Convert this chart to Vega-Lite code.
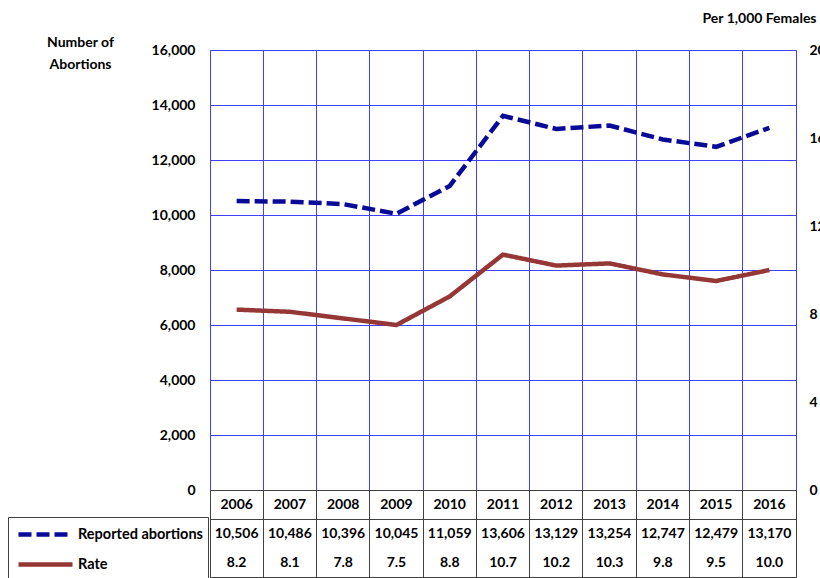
{
  "$schema": "https://vega.github.io/schema/vega-lite/v6.json",
  "padding": {"left": 7, "top": 10, "right": 0, "bottom": 0},
  "background": "white",
  "config": {
    "font": "Lato",
    "axis": {"labelFont": "Lato", "labelFontSize": 14, "labelFontWeight": "bold", "labelColor": "#000000", "titleFont": "Lato", "titleFontSize": 14, "titleFontWeight": "bold", "titleColor": "#000000"},
    "text": {"font": "Lato", "fontSize": 14, "fontWeight": "bold", "color": "#000000", "baseline": "middle"}
  },
  "datasets": {
    "series": [
      {"year": "2006", "series": "Reported abortions", "value": 10506},
      {"year": "2007", "series": "Reported abortions", "value": 10486},
      {"year": "2008", "series": "Reported abortions", "value": 10396},
      {"year": "2009", "series": "Reported abortions", "value": 10045},
      {"year": "2010", "series": "Reported abortions", "value": 11059},
      {"year": "2011", "series": "Reported abortions", "value": 13606},
      {"year": "2012", "series": "Reported abortions", "value": 13129},
      {"year": "2013", "series": "Reported abortions", "value": 13254},
      {"year": "2014", "series": "Reported abortions", "value": 12747},
      {"year": "2015", "series": "Reported abortions", "value": 12479},
      {"year": "2016", "series": "Reported abortions", "value": 13170},
      {"year": "2006", "series": "Rate", "value": 8.2},
      {"year": "2007", "series": "Rate", "value": 8.1},
      {"year": "2008", "series": "Rate", "value": 7.8},
      {"year": "2009", "series": "Rate", "value": 7.5},
      {"year": "2010", "series": "Rate", "value": 8.8},
      {"year": "2011", "series": "Rate", "value": 10.7},
      {"year": "2012", "series": "Rate", "value": 10.2},
      {"year": "2013", "series": "Rate", "value": 10.3},
      {"year": "2014", "series": "Rate", "value": 9.8},
      {"year": "2015", "series": "Rate", "value": 9.5},
      {"year": "2016", "series": "Rate", "value": 10.0}
    ]
  },
  "spacing": 0,
  "bounds": "flush",
  "vconcat": [
    {
      "width": 586,
      "height": 440,
      "view": {"stroke": "#4040ff", "strokeWidth": 1},
      "data": {"name": "series"},
      "layer": [
        {
          "transform": [{"filter": "datum.series === 'Reported abortions'"}],
          "mark": {"type": "line", "strokeWidth": 4.5, "strokeCap": "butt"},
          "encoding": {
            "x": {"field": "year", "type": "ordinal", "scale": {"type": "band", "paddingInner": 0, "paddingOuter": 0},
                  "axis": {"labels": false, "ticks": false, "domain": false, "grid": true, "bandPosition": 0, "gridColor": "#4040ff", "gridOpacity": 1, "title": null}},
            "y": {"field": "value", "type": "quantitative", "scale": {"domain": [0, 16000], "nice": false},
                  "axis": {"values": [0, 2000, 4000, 6000, 8000, 10000, 12000, 14000, 16000], "format": ",.0f", "grid": true, "gridColor": "#4040ff", "gridOpacity": 1, "domain": false, "ticks": false, "tickSize": 0, "labelPadding": 15,
                           "title": ["Number of", "Abortions"], "titleAngle": 0, "titleAlign": "center", "titleBaseline": "alphabetic", "titleX": -130, "titleY": -4, "titleLineHeight": 22}},
            "color": {"field": "series", "type": "nominal", "scale": {"domain": ["Reported abortions", "Rate"], "range": ["#0a0a99", "#953735"]},
                      "legend": {"title": null, "orient": "none", "legendX": -202, "legendY": 467, "symbolType": "M-1,0H4.4", "symbolSize": 400, "symbolStrokeWidth": 4.5, "symbolOffset": 3, "labelFont": "Lato", "labelFontSize": 14.5, "labelFontWeight": "bold", "labelColor": "#000000", "labelOffset": 37, "padding": 5, "rowPadding": 8, "strokeColor": "#404040"}},
            "strokeDash": {"field": "series", "type": "nominal", "scale": {"domain": ["Reported abortions", "Rate"], "range": [[13, 5], [1, 0]]},
                      "legend": {"title": null, "orient": "none", "legendX": -202, "legendY": 467, "symbolType": "M-1,0H4.4", "symbolSize": 400, "symbolStrokeWidth": 4.5, "symbolOffset": 3, "labelFont": "Lato", "labelFontSize": 14.5, "labelFontWeight": "bold", "labelColor": "#000000", "labelOffset": 37, "padding": 5, "rowPadding": 8, "strokeColor": "#404040"}}
          }
        },
        {
          "transform": [{"filter": "datum.series === 'Rate'"}],
          "mark": {"type": "line", "strokeWidth": 4.5},
          "encoding": {
            "x": {"field": "year", "type": "ordinal"},
            "y": {"field": "value", "type": "quantitative", "scale": {"domain": [0, 20], "nice": false},
                  "axis": {"orient": "right", "values": [0, 4, 8, 12, 16, 20], "grid": false, "domain": false, "ticks": false, "tickSize": 0, "labelPadding": 13,
                           "title": "Per 1,000 Females", "titleAngle": 0, "titleAlign": "left", "titleBaseline": "alphabetic", "titleX": -94, "titleY": -28}},
            "color": {"field": "series", "type": "nominal"},
            "strokeDash": {"field": "series", "type": "nominal"}
          }
        }
      ],
      "resolve": {"scale": {"y": "independent"}}
    },
    {
      "width": 586,
      "height": 87,
      "view": {"stroke": "#404040", "strokeWidth": 1},
      "data": {"name": "series"},
      "encoding": {
        "x": {"field": "year", "type": "ordinal", "scale": {"type": "band", "paddingInner": 0, "paddingOuter": 0},
              "axis": {"labels": false, "ticks": false, "domain": false, "grid": true, "bandPosition": 0, "gridColor": "#404040", "gridOpacity": 1, "title": null}}
      },
      "layer": [
        {
          "transform": [{"filter": "datum.series === 'Reported abortions'"}],
          "mark": {"type": "text", "baseline": "middle"},
          "encoding": {
            "y": {"datum": "Year", "type": "nominal", "scale": {"type": "band", "domain": ["Year", "Reported abortions", "Rate"], "paddingInner": 0, "paddingOuter": 0},
                  "axis": {"labels": false, "ticks": false, "domain": false, "grid": true, "values": ["Reported abortions"], "bandPosition": 0, "gridColor": "#404040", "gridOpacity": 1, "title": null}},
            "text": {"field": "year", "type": "nominal"}
          }
        },
        {
          "transform": [{"filter": "datum.series === 'Reported abortions'"}],
          "mark": {"type": "text", "baseline": "middle"},
          "encoding": {
            "y": {"field": "series", "type": "nominal"},
            "text": {"field": "value", "type": "quantitative", "format": ","}
          }
        },
        {
          "transform": [{"filter": "datum.series === 'Rate'"}],
          "mark": {"type": "text", "baseline": "middle"},
          "encoding": {
            "y": {"field": "series", "type": "nominal"},
            "text": {"field": "value", "type": "quantitative", "format": ".1f"}
          }
        }
      ]
    }
  ]
}
